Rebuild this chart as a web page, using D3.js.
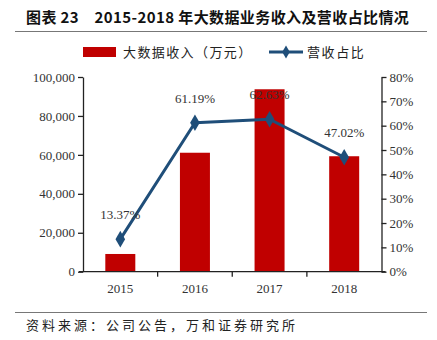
<!DOCTYPE html>
<html><head><meta charset="utf-8">
<script src="https://cdn.jsdelivr.net/npm/d3@7"></script>
<style>
body{margin:0;background:#fff;}
svg{display:block;}
</style></head>
<body><svg id="chart" width="437" height="340"></svg>
<script>
const years = ["2015", "2016", "2017", "2018"];
const revenue = [9100, 61100, 93700, 59300];      // 大数据收入（万元）
const share = [13.37, 61.19, 62.63, 47.02];       // 营收占比 (%)
const leftTicks = [0, 20000, 40000, 60000, 80000, 100000];
const rightTicks = [0, 10, 20, 30, 40, 50, 60, 70, 80];

const svg = d3.select("#chart");
const serif = "'Liberation Serif','Times New Roman',serif";
const cjk = "'Noto Sans CJK SC',sans-serif";
const m = {l: 83, r: 381.5, t: 77, b: 271.7};

const xb = d3.scaleBand().domain(years).range([m.l, m.r]);
const yL = d3.scaleLinear().domain([0, 100000]).range([m.b, m.t]);
const yR = d3.scaleLinear().domain([0, 80]).range([m.b, m.t]);
const cx = d => xb(d) + xb.bandwidth() / 2;

// title
svg.append("text").attr("x", 26).attr("y", 23).attr("font-size", 15).attr("font-weight", "bold")
  .attr("font-family", cjk).attr("fill", "#111").attr("letter-spacing", 0.4)
  .text("图表 23　2015-2018 年大数据业务收入及营收占比情况");
svg.append("line").attr("x1", 15).attr("x2", 427).attr("y1", 31.5).attr("y2", 31.5)
  .attr("stroke", "#777").attr("stroke-width", 1.2);

// legend
svg.append("rect").attr("x", 83).attr("y", 47).attr("width", 33).attr("height", 10).attr("fill", "#C00000");
svg.append("text").attr("x", 123).attr("y", 57).attr("font-size", 13).attr("font-family", cjk).attr("fill", "#222")
  .attr("letter-spacing", 1.4).text("大数据收入（万元）");
svg.append("line").attr("x1", 269).attr("x2", 303).attr("y1", 52).attr("y2", 52)
  .attr("stroke", "#1F4E79").attr("stroke-width", 3);
svg.append("path").attr("d", d3.symbol(d3.symbolDiamond, 50)()).attr("transform", "translate(286,52)").attr("fill", "#1F4E79");
svg.append("text").attr("x", 307).attr("y", 57).attr("font-size", 13).attr("font-family", cjk).attr("fill", "#222")
  .attr("letter-spacing", 1.6).text("营收占比");

// bars
svg.append("g").selectAll("rect").data(years).join("rect")
  .attr("x", d => cx(d) - 15)
  .attr("width", 30)
  .attr("y", (d, i) => yL(revenue[i]))
  .attr("height", (d, i) => m.b - yL(revenue[i]))
  .attr("fill", "#C00000");

// axes
const fmt = d3.format(",");
const gL = svg.append("g").attr("transform", `translate(${m.l},0)`)
  .call(d3.axisLeft(yL).tickValues(leftTicks).tickFormat(fmt).tickSize(5).tickSizeOuter(0));
const gR = svg.append("g").attr("transform", `translate(${m.r},0)`)
  .call(d3.axisRight(yR).tickValues(rightTicks).tickFormat(d => d + "%").tickSize(5).tickSizeOuter(0));
const gX = svg.append("g").attr("transform", `translate(0,${m.b})`)
  .call(d3.axisBottom(xb).tickSize(0).tickPadding(12));
// category boundary ticks
svg.append("g").selectAll("line").data(years.slice(1)).join("line")
  .attr("x1", d => xb(d)).attr("x2", d => xb(d))
  .attr("y1", m.b).attr("y2", m.b + 5).attr("stroke", "#222").attr("stroke-width", 1.3);

[gL, gR, gX].forEach(g => {
  g.selectAll("path,line").attr("stroke", "#222").attr("stroke-width", 1.3);
  g.selectAll("text").attr("font-family", serif).attr("font-size", 13).attr("fill", "#333");
});
gX.select(".domain").attr("d", `M${m.l - 4},0H${m.r + 4}`);
gL.selectAll("text").attr("x", -8);
gR.selectAll("text").attr("x", 8);

// line
const line = d3.line().x((d, i) => cx(years[i])).y(d => yR(d));
svg.append("path").datum(share).attr("d", line).attr("fill", "none")
  .attr("stroke", "#1F4E79").attr("stroke-width", 3).attr("stroke-linejoin", "round");
svg.append("g").selectAll("path").data(share).join("path")
  .attr("d", d3.symbol(d3.symbolDiamond, 80)())
  .attr("transform", (d, i) => `translate(${cx(years[i])},${yR(d)})`)
  .attr("fill", "#1F4E79");
svg.append("g").selectAll("text").data(share).join("text")
  .attr("x", (d, i) => cx(years[i]))
  .attr("y", d => yR(d) - 20)
  .attr("text-anchor", "middle").attr("font-family", serif).attr("font-size", 13).attr("fill", "#333")
  .text(d => d.toFixed(2) + "%");

// footer
svg.append("line").attr("x1", 15).attr("x2", 427).attr("y1", 312.5).attr("y2", 312.5)
  .attr("stroke", "#777").attr("stroke-width", 1.2);
svg.append("text").attr("x", 26).attr("y", 330).attr("font-size", 13).attr("font-family", cjk).attr("fill", "#222")
  .attr("letter-spacing", 3).text("资料来源：公司公告，万和证券研究所");
</script></body></html>
